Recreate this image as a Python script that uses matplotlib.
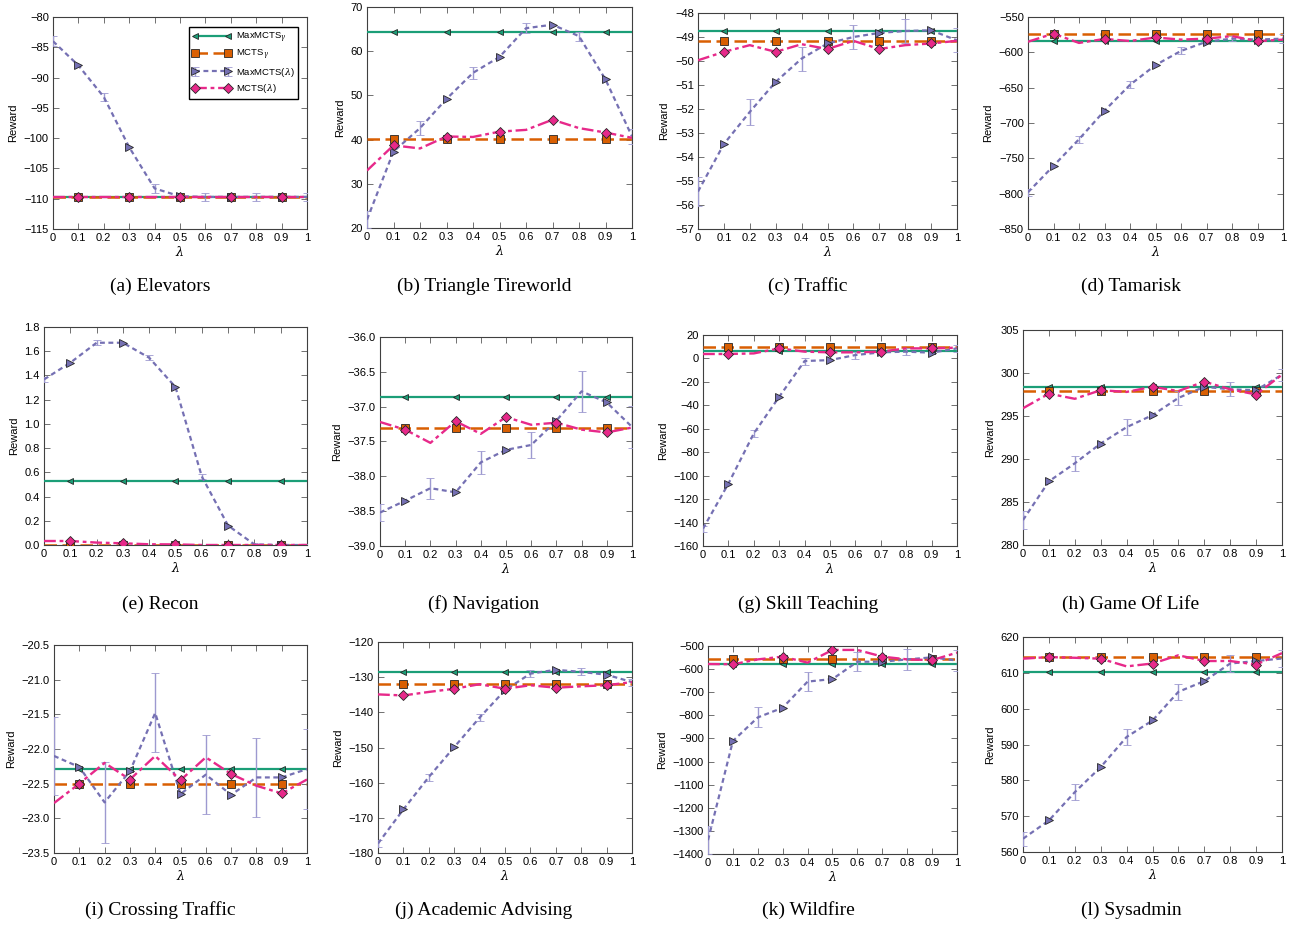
import matplotlib
matplotlib.use("Agg")
import matplotlib.pyplot as plt
import numpy as np

# lambda values on the x axis
lambdas = [0.0, 0.1, 0.2, 0.3, 0.4, 0.5, 0.6, 0.7, 0.8, 0.9, 1.0]
lambda_labels = ["0", "0.1", "0.2", "0.3", "0.4", "0.5", "0.6", "0.7", "0.8", "0.9", "1"]

domains = ["(a) Elevators", "(b) Triangle Tireworld", "(c) Traffic", "(d) Tamarisk",
           "(e) Recon", "(f) Navigation", "(g) Skill Teaching", "(h) Game Of Life",
           "(i) Crossing Traffic", "(j) Academic Advising", "(k) Wildfire", "(l) Sysadmin"]

# constant baselines (one value per domain)
maxmcts_gamma = [-109.7, 64.3, -48.76, -583.9, 0.532, -36.864, 6.6, 298.4, -22.29, -128.5, -577.9, 610.2]
mcts_gamma = [-109.7, 40.2, -49.16, -573.5, 0.0, -37.31, 9.7, 297.95, -22.5, -132.0, -557.7, 614.4]

# MaxMCTS(lambda) means and std errors
maxmcts_lambda = [
    [-84.0, -88.0, -93.2, -101.5, -108.3, -109.6, -109.7, -109.7, -109.7, -109.7, -109.7],
    [21.9, 37.3, 42.6, 49.2, 55.1, 58.7, 65.2, 66.0, 63.4, 53.6, 40.7],
    [-55.44, -53.46, -52.12, -50.87, -49.9, -49.27, -49.0, -48.83, -48.75, -48.72, -49.14],
    [-798, -760.6, -723, -682.6, -646, -618, -598, -585, -580.6, -582, -580.6],
    [1.367, 1.505, 1.67, 1.67, 1.546, 1.304, 0.566, 0.16, 0.005, 0.0, 0.0],
    [-38.52, -38.35, -38.17, -38.23, -37.8, -37.62, -37.55, -37.2, -36.78, -36.94, -37.29],
    [-145.2, -106.8, -64.0, -32.7, -2.2, -1.4, 2.9, 5.2, 5.8, 4.9, 8.6],
    [282.9, 287.4, 289.5, 291.8, 293.7, 295.1, 297.1, 298.4, 298.1, 298.0, 299.8],
    [-22.1, -22.26, -22.77, -22.32, -21.48, -22.65, -22.37, -22.66, -22.41, -22.41, -22.29],
    [-177.3, -167.6, -158.4, -149.9, -141.5, -133.7, -129.0, -127.9, -128.5, -129.3, -131.4],
    [-1340, -911, -809, -767, -654, -643, -568, -568, -558, -549, -563],
    [563.7, 568.8, 576.7, 583.7, 592.1, 596.7, 604.7, 607.7, 612.6, 613.3, 614.0],
]
maxmcts_lambda_err = [
    [0.8, 0.7, 0.7, 0.7, 0.8, 0.7, 0.7, 0.7, 0.7, 0.7, 0.6],
    [1.9, 1.6, 1.6, 1.5, 1.4, 1.2, 1.1, 1.0, 1.0, 1.5, 1.7],
    [0.6, 0.55, 0.53, 0.5, 0.5, 0.5, 0.5, 0.5, 0.5, 0.5, 0.5],
    [5, 5, 5, 5, 5, 5, 5, 4, 4, 5, 6],
    [0.02, 0.02, 0.02, 0.02, 0.02, 0.02, 0.02, 0.01, 0.01, 0.01, 0.01],
    [0.12, 0.14, 0.15, 0.16, 0.17, 0.18, 0.19, 0.25, 0.29, 0.3, 0.3],
    [2.5, 3, 3, 3, 3, 3, 3, 3, 3, 3, 3],
    [1.0, 0.9, 0.9, 0.9, 0.9, 0.8, 0.8, 0.8, 0.8, 0.7, 0.7],
    [0.56, 0.57, 0.58, 0.57, 0.57, 0.57, 0.57, 0.57, 0.57, 0.58, 0.58],
    [1, 1, 1, 1, 1, 1, 1, 1, 1, 1, 1],
    [60, 45, 43, 42, 41, 40, 40, 44, 46, 46, 46],
    [2.0, 2.1, 2.2, 2.2, 2.3, 2.3, 2.3, 2.4, 2.5, 2.5, 2.5],
]

# MCTS(lambda) means
mcts_lambda = [
    [-109.7] * 11,
    [33.0, 38.7, 38.0, 40.7, 40.6, 41.8, 42.2, 44.5, 42.6, 41.6, 40.4],
    [-49.97, -49.62, -49.34, -49.62, -49.3, -49.5, -49.16, -49.5, -49.34, -49.27, -49.16],
    [-585, -573.5, -586.7, -581, -584, -579, -582, -580.6, -577, -584.3, -582],
    [0.033, 0.033, 0.02, 0.014, 0.006, 0.005, 0.0, 0.0, 0.0, 0.0, 0.0],
    [-37.22, -37.33, -37.52, -37.21, -37.39, -37.15, -37.26, -37.23, -37.33, -37.37, -37.3],
    [3.8, 3.8, 4.3, 8.6, 5.8, 5.2, 5.2, 5.8, 8.6, 8.6, 9.2],
    [295.9, 297.6, 297.0, 298.0, 297.8, 298.4, 297.9, 299.0, 298.1, 297.5, 299.8],
    [-22.78, -22.5, -22.2, -22.44, -22.1, -22.45, -22.12, -22.36, -22.53, -22.64, -22.44],
    [-134.9, -135.2, -134.2, -133.3, -132.0, -133.3, -132.3, -133.0, -132.6, -132.3, -131.4],
    [-578, -579, -558, -546, -572, -517, -517, -546, -558, -561, -529],
    [613.95, 614.4, 614.2, 613.95, 611.8, 612.6, 614.9, 613.3, 613.3, 612.3, 615.5],
]

# y axis range and tick step per panel
y_ranges = [(-115, -80, 5), (20, 70, 10), (-57, -48, 1), (-850, -550, 50),
            (0, 1.8, 0.2), (-39, -36, 0.5), (-160, 20, 20), (280, 305, 5),
            (-23.5, -20.5, 0.5), (-180, -120, 10), (-1400, -500, 100), (560, 620, 10)]

# axes boxes in pixels: left, top, right, bottom
boxes = [(53, 17, 307, 229), (367, 7, 632, 228), (698, 13, 957, 229), (1028, 17, 1283, 229),
         (44, 327, 307, 545), (380, 337, 632, 546), (703, 335, 957, 546), (1023, 330, 1282, 545),
         (54, 645, 307, 853), (378, 642, 632, 853), (708, 646, 957, 854), (1023, 637, 1282, 852)]
caption_x = [160, 484, 808, 1131]
caption_y = [286, 604, 910]

W, H = 1289, 926
plt.rcParams['font.family'] = ['Liberation Sans', 'DejaVu Sans']
plt.rcParams['mathtext.fontset'] = 'dejavuserif'

green = '#1b9e77'
orange = '#d95f02'
purple = '#7570b3'
pink = '#e7298a'

fig = plt.figure(figsize=(W / 100, H / 100), dpi=100)

x = np.array(lambdas)
for i in range(12):
    l, t, r, b = boxes[i]
    ax = fig.add_axes([l / W, 1 - b / H, (r - l) / W, (b - t) / H])

    h1, = ax.plot(x, [maxmcts_gamma[i]] * len(x), '-', color=green, lw=1.6, marker='<', ms=5,
                  mfc=green, mec='0.15', mew=0.6, markevery=(1, 2), label=r'MaxMCTS$_\gamma$', zorder=3)
    h2, = ax.plot(x, [mcts_gamma[i]] * len(x), color=orange, lw=1.8, dashes=(5, 2.2), marker='s', ms=5.5,
                  mfc=orange, mec='0.15', mew=0.6, markevery=(1, 2), label=r'MCTS$_\gamma$', zorder=3)
    h3 = ax.errorbar(x, maxmcts_lambda[i], yerr=maxmcts_lambda_err[i], color=purple, lw=1.6,
                     dashes=(2.2, 1.6), marker='>', ms=5.5, mfc=purple, mec='0.15', mew=0.6,
                     markevery=(1, 2), errorevery=(0, 2), ecolor='#9d99d0', elinewidth=1,
                     capsize=3, capthick=1, label=r'MaxMCTS($\lambda$)', zorder=4)
    h4, = ax.plot(x, mcts_lambda[i], color=pink, lw=1.7, dashes=(5, 1.6, 1.6, 1.6), marker='D', ms=5.5,
                  mfc=pink, mec='0.15', mew=0.6, markevery=(1, 2), label=r'MCTS($\lambda$)', zorder=5)

    lo, hi, step = y_ranges[i]
    ax.set_ylim(lo, hi)
    ax.set_yticks(np.round(np.arange(lo, hi + step / 2, step), 6))
    ax.set_xlim(0, 1)
    ax.set_xticks(x)
    ax.set_xticklabels(lambda_labels)
    ax.tick_params(direction='in', top=True, right=True, labelsize=8, length=4,
                   width=0.6, color='0.35', pad=3)
    for sp in ax.spines.values():
        sp.set_color('0.25')
        sp.set_linewidth(0.8)
    ax.set_ylabel('Reward', fontsize=8, labelpad=4)
    ax.set_xlabel(r'$\lambda$', fontsize=9, labelpad=1)

    if i == 0:
        ax.legend(handles=[h1, h2, h3, h4], loc='upper right', fontsize=6.8, numpoints=2,
                  handlelength=4.0, fancybox=False, edgecolor='black', framealpha=1,
                  borderpad=0.4, labelspacing=0.35, handletextpad=0.6,
                  bbox_to_anchor=(0.985, 0.975))

    row, col = divmod(i, 4)
    fig.text(caption_x[col] / W, 1 - caption_y[row] / H, domains[i],
             ha='center', va='center', fontsize=14, family=['Liberation Serif'])

fig.savefig('out.png', dpi=100)
